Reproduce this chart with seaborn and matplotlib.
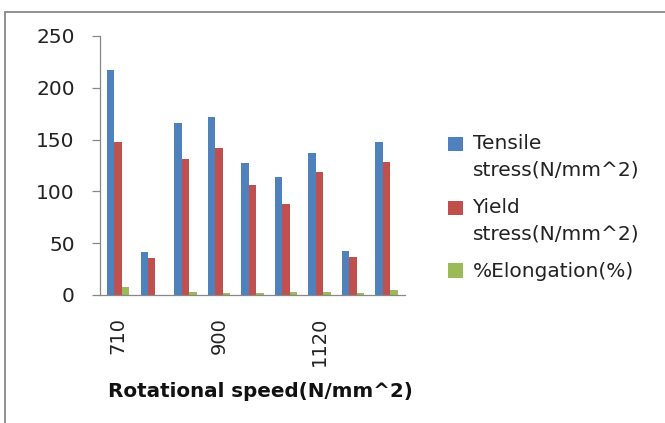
import pandas as pd
import matplotlib.pyplot as plt
import seaborn as sns
from matplotlib.lines import Line2D
from matplotlib.patches import Patch

sns.set_style("white")
plt.rcParams["font.family"] = ["DejaVu Sans"]

# data
speeds = [710, 710, 710, 900, 900, 900, 1120, 1120, 1120]
tick_labels = ["710", "", "", "900", "", "", "1120", "", ""]
tensile = [217, 41.5, 165.5, 172, 127, 114, 136.5, 42.5, 147.5]
yield_stress = [148, 35.5, 131, 141.5, 106.5, 88, 119, 36.5, 128.5]
elongation = [7.2, 0.0, 3.2, 2.2, 2.2, 3.2, 3.2, 2.2, 5.0]

series = ["Tensile\nstress(N/mm^2)", "Yield\nstress(N/mm^2)", "%Elongation(%)"]
colors = ["#4F81BD", "#C0504D", "#9BBB59"]

rows = []
for i in range(len(speeds)):
    rows.append({"sample": i, "series": series[0], "value": tensile[i]})
    rows.append({"sample": i, "series": series[1], "value": yield_stress[i]})
    rows.append({"sample": i, "series": series[2], "value": elongation[i]})
df = pd.DataFrame(rows)

fig = plt.figure(figsize=(6.65, 4.23), dpi=100)
ax = fig.add_axes([0.150, 0.303, 0.459, 0.612])

sns.barplot(data=df, x="sample", y="value", hue="series", palette=colors,
            width=0.67, gap=0, saturation=1, linewidth=0, ax=ax, legend=False)

ax.set_ylim(0, 250)
ax.set_yticks([0, 50, 100, 150, 200, 250])
ax.set_xlim(-0.55, len(speeds) - 0.45)
ax.set_xticks(range(len(speeds)))
ax.set_xticklabels(tick_labels, rotation=90, va="top", ha="center")
ax.tick_params(axis="x", length=0, pad=16, labelsize=14, colors="#222222")
ax.tick_params(axis="y", length=6, width=0.9, color="#888888", labelsize=14.5, pad=12,
               labelcolor="#222222", left=True, direction="out")

for side in ["top", "right"]:
    ax.spines[side].set_visible(False)
for side in ["left", "bottom"]:
    ax.spines[side].set_color("#888888")
    ax.spines[side].set_linewidth(0.9)

ax.set_ylabel("")
ax.set_xlabel("Rotational speed(N/mm^2)", fontsize=14.3, fontweight="bold",
              color="#111111")
ax.xaxis.set_label_coords(0.525, -0.335)

handles = [Patch(facecolor=c, edgecolor="none") for c in colors]
leg = fig.legend(handles, series, loc="upper left", bbox_to_anchor=(0.647, 0.725),
                 frameon=False, fontsize=14.5, handlelength=0.75, handleheight=0.75,
                 handletextpad=0.45, labelspacing=0.95, labelcolor="#222222")
for t in leg.get_texts():
    t.set_linespacing(1.45)

# Excel puts the legend key next to the first line of a wrapped label
for p, lab in zip(leg.get_patches(), series):
    if "\n" in lab:
        p.set_y(p.get_y() + 9.5)

# outer chart frame (top and left edges)
fig.add_artist(Line2D([5 / 665, 1.0], [1 - 12 / 423, 1 - 12 / 423],
                      transform=fig.transFigure, color="#888888", lw=1.3))
fig.add_artist(Line2D([5 / 665, 5 / 665], [0, 1 - 12 / 423],
                      transform=fig.transFigure, color="#888888", lw=1.3))

fig.savefig("out.png", dpi=100)
